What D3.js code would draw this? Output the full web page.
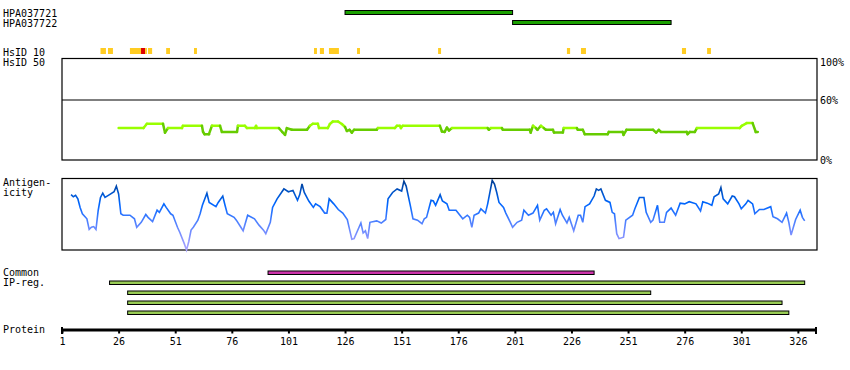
<!DOCTYPE html>
<html>
<head>
<meta charset="utf-8">
<script src="https://cdn.jsdelivr.net/npm/d3@7"></script>
<style>
  body { margin: 0; background: #fff; }
  text { font-family: "DejaVu Sans Mono", monospace; font-size: 10px; fill: #000; }
</style>
</head>
<body>
<script>
// protein feature view, residues 1..334

var proteinLength = 334;
var tickVals = [1, 26, 51, 76, 101, 126, 151, 176, 201, 226, 251, 276, 301, 326];

// antibodies (start, end residue)
var antibodyNames = ['HPA037721', 'HPA037722'];
var antibodyStart = [126, 200];
var antibodyEnd = [200, 270];

// HsID 10 hits [from, to, kind]
var hsid10 = [
  [18, 20.4, 'y'], [21.3, 23.5, 'y'], [31, 35.9, 'y'], [35.9, 37.7, 'r'], [37.7, 38.5, 'y'],
  [39, 40.8, 'y'], [47, 48.7, 'y'], [59.3, 60.6, 'y'], [112.3, 113.6, 'y'], [114.9, 116.7, 'y'],
  [118.9, 123.3, 'y'], [131.3, 132.6, 'y'], [167.1, 168.4, 'y'], [224, 225.4, 'y'],
  [230.2, 232.4, 'y'], [274.8, 276.6, 'y'], [285.9, 287.6, 'y']
];

// HsID 50 similarity (%)
var simRes = [26, 37, 38.5, 45.6, 46.5, 47.8, 54, 54.4, 62.8, 63.3, 64, 65.9, 67.2, 70.8, 71.6, 78.3,
  78.7, 81.8, 82.7, 86.2, 86.7, 87.1, 96.8, 98.3, 99.5, 100.3, 102.5, 109.2, 110.5, 111.8, 114,
  114.5, 118.4, 119.3, 120.6, 122.9, 124.6, 126, 126.8, 128, 129, 130, 140, 140.5, 148, 148.9,
  150.2, 150.7, 151.5, 167.9, 168.8, 170, 171, 171.9, 173.2, 189, 189.5, 190.4, 195.3, 195.7,
  207.6, 208, 209, 210.3, 211, 212.5, 213.8, 214.7, 217.8, 218.3, 222.2, 222.6, 228.4, 228.8,
  231, 231.9, 242, 242.5, 248.6, 249, 250.3, 262, 263.4, 264.6, 265.5, 276.9, 277.3, 278.3,
  280.5, 281.4, 300.3, 301.2, 303.4, 306, 307.4, 308.3];
var simVal = [31.9, 31.9, 36.2, 36.2, 27.4, 31.9, 31.9, 34.2, 34.2, 28, 25.8, 25.8, 34.2, 34.2, 28.1, 28.1,
  34.2, 34.2, 31.9, 31.9, 34.2, 31.9, 31.9, 28, 25.1, 31.9, 30.2, 30.2, 34.2, 36.2, 36.2,
  31.9, 31.9, 36, 38.5, 38.5, 36, 33, 29, 30.2, 27.4, 30.2, 30.2, 31.9, 31.9, 34.2,
  34.2, 31.9, 34.2, 34.2, 28.5, 28.1, 32.5, 29.5, 31.9, 31.9, 30.2, 31.9, 31.9, 30.2,
  30.2, 27.4, 34.2, 31.9, 30.2, 34.2, 31.9, 30.2, 30.2, 27.4, 27.4, 31.9, 31.9, 30.2,
  30.2, 25.8, 25.8, 28.1, 28.1, 25.1, 30.2, 30.2, 27.4, 30.2, 28.1, 28.1, 25.8, 28.1,
  28.1, 31.9, 31.9, 34.2, 36.9, 36.9, 28, 28.1];

// antigenicity score (0..1)
var agRes = [5, 6, 7, 8, 9, 10, 12, 13, 14, 15, 16, 17, 18, 19, 20, 22, 24, 25, 26, 27,
  28, 31, 33, 34, 36, 38, 39, 41, 43, 44, 46, 47, 49, 50, 52, 53, 55, 56, 57, 58,
  59, 61, 62, 63, 65, 66, 69, 70, 72, 73, 74, 77, 78, 80, 81, 83, 86, 88, 90, 91,
  93, 94, 96, 99, 101, 103, 105, 106, 107, 108, 110, 112, 113, 115, 117, 118, 119, 121, 123, 125,
  127, 129, 130, 133, 134, 135, 136, 137, 140, 142, 144, 145, 147, 149, 151, 152, 153, 155, 156, 158,
  160, 161, 162, 164, 165, 166, 168, 169, 171, 172, 175, 178, 180, 181, 182, 183, 185, 186, 188, 189,
  191, 192, 193, 194, 196, 197, 199, 200, 202, 204, 205, 207, 209, 211, 212, 214, 215, 217, 218, 219,
  221, 222, 224, 225, 227, 229, 230, 231, 232, 234, 236, 237, 238, 239, 241, 243, 244, 245, 246, 247,
  249, 250, 253, 254, 256, 258, 259, 261, 262, 264, 265, 267, 268, 270, 272, 274, 276, 278, 281, 283,
  284, 286, 288, 289, 291, 292, 293, 295, 297, 298, 300, 301, 303, 304, 306, 307, 309, 311, 314, 315,
  317, 319, 321, 322, 323, 325, 327, 328, 329];
var agVal = [0.78, 0.75, 0.77, 0.72, 0.60, 0.51, 0.44, 0.29, 0.32, 0.33, 0.29, 0.56, 0.74, 0.80, 0.74, 0.78, 0.82, 0.90, 0.79, 0.51,
  0.49, 0.49, 0.44, 0.32, 0.39, 0.50, 0.46, 0.40, 0.56, 0.53, 0.65, 0.60, 0.51, 0.49, 0.32, 0.25, 0.09, 0.00, 0.12, 0.28,
  0.32, 0.42, 0.51, 0.63, 0.80, 0.67, 0.61, 0.67, 0.76, 0.63, 0.51, 0.46, 0.42, 0.32, 0.27, 0.49, 0.44, 0.35, 0.28, 0.23,
  0.39, 0.60, 0.72, 0.86, 0.82, 0.84, 0.70, 0.78, 0.93, 0.81, 0.69, 0.60, 0.65, 0.61, 0.52, 0.52, 0.72, 0.65, 0.57, 0.52,
  0.43, 0.15, 0.16, 0.38, 0.24, 0.27, 0.16, 0.39, 0.41, 0.38, 0.43, 0.72, 0.81, 0.86, 0.83, 0.97, 0.90, 0.60, 0.44, 0.42,
  0.37, 0.44, 0.46, 0.70, 0.69, 0.63, 0.78, 0.69, 0.65, 0.56, 0.56, 0.44, 0.49, 0.46, 0.32, 0.49, 0.52, 0.58, 0.52, 0.65,
  0.98, 0.93, 0.81, 0.67, 0.60, 0.52, 0.39, 0.32, 0.39, 0.42, 0.56, 0.49, 0.52, 0.63, 0.42, 0.56, 0.58, 0.49, 0.53, 0.37,
  0.57, 0.49, 0.38, 0.46, 0.27, 0.49, 0.49, 0.39, 0.61, 0.65, 0.76, 0.86, 0.84, 0.86, 0.70, 0.67, 0.53, 0.51, 0.23, 0.16,
  0.18, 0.42, 0.49, 0.58, 0.74, 0.74, 0.53, 0.39, 0.42, 0.63, 0.39, 0.39, 0.53, 0.59, 0.49, 0.66, 0.65, 0.68, 0.65, 0.55,
  0.68, 0.66, 0.63, 0.75, 0.79, 0.88, 0.72, 0.65, 0.76, 0.75, 0.65, 0.58, 0.65, 0.70, 0.65, 0.51, 0.57, 0.57, 0.61, 0.47,
  0.44, 0.39, 0.52, 0.39, 0.21, 0.43, 0.56, 0.46, 0.41];

// common region and IP-regions (start, end residue)
var commonStart = [92];
var commonEnd = [236];
var ipStart = [22, 30, 30, 30];
var ipEnd = [329, 261, 319, 322];

var width = 850;
var height = 370;

var svg = d3.select('body').append('svg')
    .attr('width', width)
    .attr('height', height);

var x = d3.scaleLinear().domain([1, proteinLength]).range([62, 816]);
var ySim = d3.scaleLinear().domain([0, 100]).range([160, 60]);
var yAg = d3.scaleLinear().domain([0, 1]).range([250, 179]);

function label(txt, px, py) {
    svg.append('text').attr('x', px).attr('y', py).text(txt);
}

// left labels
label('HPA037721', 3, 16.5);
label('HPA037722', 3, 26.5);
label('HsID 10', 3, 55.5);
label('HsID 50', 3, 65.5);
label('Antigen-', 3, 186);
label('icity', 3, 196);
label('Common', 3, 276);
label('IP-reg.', 3, 286);
label('Protein', 3, 333);

// antibody bars
svg.selectAll('.ab').data(antibodyNames).enter().append('rect')
    .attr('x', function(d, i) { return x(antibodyStart[i]); })
    .attr('y', function(d, i) { return 10.5 + i * 10; })
    .attr('width', function(d, i) { return x(antibodyEnd[i]) - x(antibodyStart[i]); })
    .attr('height', 4)
    .attr('fill', '#1aa000')
    .attr('stroke', '#000')
    .attr('stroke-width', 1);

// HsID 10 marks
svg.selectAll('.hs').data(hsid10).enter().append('rect')
    .attr('x', function(d) { return x(d[0]); })
    .attr('y', 48)
    .attr('width', function(d) { return x(d[1]) - x(d[0]); })
    .attr('height', 6)
    .attr('fill', function(d) { return d[2] == 'r' ? '#dd0000' : '#ffcc22'; });

// similarity frame
svg.append('rect')
    .attr('x', 62).attr('y', 58.5)
    .attr('width', 755).attr('height', 101.5)
    .attr('fill', 'none').attr('stroke', '#000').attr('stroke-width', 1.2);
svg.append('line')
    .attr('x1', 62).attr('x2', 817)
    .attr('y1', ySim(60)).attr('y2', ySim(60))
    .attr('stroke', '#000').attr('stroke-width', 1.2);
[[100, '100%', 66], [60, '60%', ySim(60) + 3.5], [0, '0%', 163.5]].forEach(function(t) {
    label(t[1], 820, t[2]);
});

// similarity line, dark green below 31%
for (var i = 0; i < simRes.length - 1; i++) {
    var lo = Math.min(simVal[i], simVal[i + 1]);
    svg.append('line')
        .attr('x1', x(simRes[i])).attr('y1', ySim(simVal[i]))
        .attr('x2', x(simRes[i + 1])).attr('y2', ySim(simVal[i + 1]))
        .attr('stroke', lo < 31 ? '#66cc00' : '#99ff00')
        .attr('stroke-width', 2.5)
        .attr('stroke-linecap', 'round');
}

// antigenicity
var defs = svg.append('defs');
var grad = defs.append('linearGradient')
    .attr('id', 'agGrad')
    .attr('gradientUnits', 'userSpaceOnUse')
    .attr('x1', 0).attr('y1', yAg(1)).attr('x2', 0).attr('y2', yAg(0));
[[0, '#003a8c'], [0.2, '#0055cc'], [0.35, '#0066ff'], [0.6, '#4d80ff'], [0.85, '#8c95ff'], [1, '#aaa5ff']]
    .forEach(function(s) {
        grad.append('stop').attr('offset', s[0]).attr('stop-color', s[1]);
    });

svg.append('rect')
    .attr('x', 62).attr('y', 178.5)
    .attr('width', 755).attr('height', 71.5)
    .attr('fill', 'none').attr('stroke', '#000').attr('stroke-width', 1.2);

var agLine = d3.line()
    .x(function(d, i) { return x(agRes[i]); })
    .y(function(d, i) { return yAg(agVal[i]); });
svg.append('path')
    .attr('d', agLine(agRes))
    .attr('fill', 'none')
    .attr('stroke', 'url(#agGrad)')
    .attr('stroke-width', 1.6);

// common region
svg.selectAll('.cm').data(commonStart).enter().append('rect')
    .attr('x', function(d, i) { return x(d); })
    .attr('y', 271)
    .attr('width', function(d, i) { return x(commonEnd[i]) - x(d); })
    .attr('height', 3.5)
    .attr('fill', '#cc33aa')
    .attr('stroke', '#000')
    .attr('stroke-width', 1);

// IP regions
svg.selectAll('.ip').data(ipStart).enter().append('rect')
    .attr('x', function(d) { return x(d); })
    .attr('y', function(d, i) { return 281 + i * 10; })
    .attr('width', function(d, i) { return x(ipEnd[i]) - x(d); })
    .attr('height', 3.5)
    .attr('fill', '#99cc55')
    .attr('stroke', '#000')
    .attr('stroke-width', 1);

// protein axis
var axis = d3.axisBottom(x)
    .tickValues(tickVals)
    .tickFormat(d3.format('d'))
    .tickSize(4)
    .tickSizeOuter(0)
    .tickPadding(4);
var gAxis = svg.append('g')
    .attr('transform', 'translate(0,329.5)')
    .call(axis);
gAxis.select('.domain').attr('stroke-width', 3);
gAxis.selectAll('.tick line').attr('stroke-width', 2);
gAxis.selectAll('text')
    .attr('font-family', 'DejaVu Sans Mono')
    .attr('font-size', 10);
[1, proteinLength].forEach(function(r) {
    svg.append('line')
        .attr('x1', x(r)).attr('x2', x(r))
        .attr('y1', 327).attr('y2', 334)
        .attr('stroke', '#000').attr('stroke-width', 2);
});
</script>
</body>
</html>
